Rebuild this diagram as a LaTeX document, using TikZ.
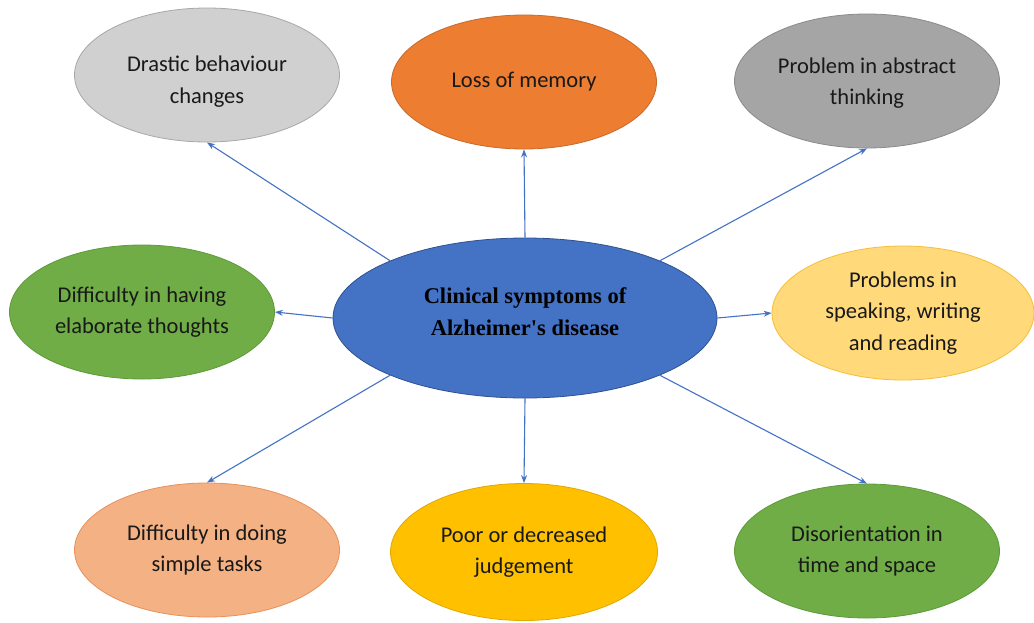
\documentclass[tikz,border=0pt]{standalone}
\usepackage{fontspec}
\setmainfont{Carlito}
\newfontfamily\timesfont{Liberation Serif}
\usetikzlibrary{shapes.geometric,arrows.meta}
\definecolor{cblue}{HTML}{4472C4}
\definecolor{cblueb}{HTML}{2F528F}
\definecolor{lgray}{HTML}{D0D0D0}
\definecolor{lgrayb}{HTML}{A8A8A8}
\definecolor{corange}{HTML}{ED7D31}
\definecolor{corangeb}{HTML}{C86A2A}
\definecolor{dgray}{HTML}{A5A5A5}
\definecolor{dgrayb}{HTML}{8A8A8A}
\definecolor{cgreen}{HTML}{70AD47}
\definecolor{cgreenb}{HTML}{5E9A3A}
\definecolor{lyellow}{HTML}{FFD97A}
\definecolor{lyellowb}{HTML}{F5BE3A}
\definecolor{salmon}{HTML}{F4B183}
\definecolor{salmonb}{HTML}{E8915A}
\definecolor{gold}{HTML}{FFC000}
\definecolor{goldb}{HTML}{E0A800}
\definecolor{arrowc}{HTML}{4472C4}
\tikzset{
  bubble/.style={ellipse, draw, line width=0.8pt, minimum width=265pt, minimum height=134pt,
    inner sep=0pt, align=center, text=black!90, font=\fontsize{22.5}{31.5}\selectfont},
  core/.style={ellipse, draw=cblueb, fill=cblue, line width=0.8pt, minimum width=384pt,
    minimum height=160pt, inner sep=0pt, align=center, text=black,
    font=\timesfont\bfseries\fontsize{22.5}{31.5}\selectfont},
  link/.style={draw=arrowc, line width=1.1pt, -{Stealth[length=8pt,width=6pt]}}
}
\begin{document}
\begin{tikzpicture}[x=1pt,y=-1pt]
\useasboundingbox[fill=white] (0,0) rectangle (1034,622);
\node[core] (c) at (525,318) {Clinical symptoms of\\Alzheimer's disease\rule[-13pt]{0pt}{1pt}};
\node[bubble, draw=lgrayb, fill=lgray] (d) at (207,75) {\rule{0pt}{29pt}Drastic behaviour\\changes};
\node[bubble, draw=corangeb, fill=corange] (m) at (524,82) {Loss of memory};
\node[bubble, draw=dgrayb, fill=dgray] (a) at (867,81) {\rule{0pt}{20pt}Problem in abstract\\thinking};
\node[bubble, draw=cgreenb, fill=cgreen] (e) at (142,312) {Difficulty in having\\elaborate thoughts};
\node[bubble, draw=lyellowb, fill=lyellow, minimum width=262pt] (s) at (903,313) {Problems in\\speaking, writing\\and reading};
\node[bubble, draw=salmonb, fill=salmon] (t) at (207,550) {Difficulty in doing\\simple tasks};
\node[bubble, draw=goldb, fill=gold, minimum width=267pt, minimum height=137pt] (p) at (524,552) {Poor or decreased\\judgement};
\node[bubble, draw=cgreenb, fill=cgreen] (o) at (867,551) {Disorientation in\\time and space};
\draw[link] (c.157) -- (d.south);
\draw[link] (c.north) -- (m.south);
\draw[link] (c.23) -- (a.south);
\draw[link] (c.west) -- (e.east);
\draw[link] (c.east) -- (s.west);
\draw[link] (c.203) -- (t.north);
\draw[link] (c.south) -- (p.north);
\draw[link] (c.337) -- (o.north);
\end{tikzpicture}
\end{document}
